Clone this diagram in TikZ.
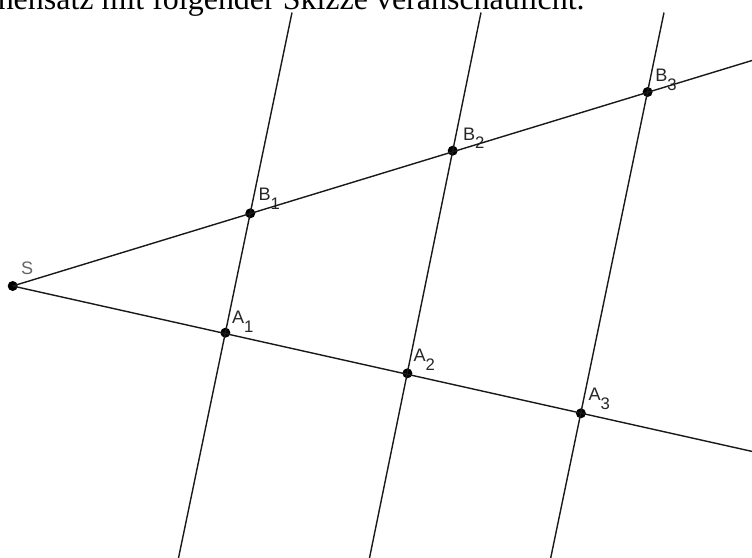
\documentclass[tikz,border=0pt]{standalone}
\usepackage{fontspec}
\setmainfont{Liberation Serif}
\newfontfamily\labfont{Liberation Sans}

\newcommand{\ptname}[2]{#1\raisebox{-5pt}{\fontsize{9.5}{10}\selectfont #2}}

\begin{document}
\begin{tikzpicture}[x=0.02cm, y=-0.02cm,
    pt/.style={circle, fill=black, inner sep=0pt, minimum size=0.2cm},
    lab/.style={anchor=base west, inner sep=0pt, text=black!85, font=\labfont\fontsize{10.3}{11}\selectfont},
    ln/.style={line width=0.8pt, black!90}
  ]
    \useasboundingbox (0,0) rectangle (752,558);
    \clip (0,0) rectangle (752,558);

    % --- caption line, cut off at the top ---
    \node[anchor=base east, inner sep=0pt, font=\fontsize{18.2}{20}\selectfont] (cap) at (585,9.5) {hensatz mit folgender Skizze veranschaulicht.};

    % --- points ---
    \node[pt] (S) at (12.7,286) {};
    \node[pt] (A1) at (225.4,332.7) {};
    \node[pt] (A2) at (407.4,373.3) {};
    \node[pt] (A3) at (580.9,413.3) {};
    \node[pt] (B1) at (250.3,213.3) {};
    \node[pt] (B2) at (452.7,150.7) {};
    \node[pt] (B3) at (647.6,92) {};

    \node[lab, text=black!60] (lS) at (20.7,274) {S};
    \node[lab] (lA1) at (231.7,323.3) {\ptname{A}{1}};
    \node[lab] (lA2) at (413.3,361.7) {\ptname{A}{2}};
    \node[lab] (lA3) at (588.3,400.7) {\ptname{A}{3}};
    \node[lab] (lB1) at (258.3,200.7) {\ptname{B}{1}};
    \node[lab] (lB2) at (462.7,140) {\ptname{B}{2}};
    \node[lab] (lB3) at (655,81.7) {\ptname{B}{3}};

    % --- free ends at the border ---
    \coordinate (eB) at (752,60.5);
    \coordinate (eA) at (752,451.4);
    \coordinate (t1) at (292,12.5);
    \coordinate (u1) at (178.5,558);
    \coordinate (t2) at (481,12.5);
    \coordinate (u2) at (369.5,558);
    \coordinate (t3) at (664,12.5);
    \coordinate (u3) at (550.7,558);

    % --- two rays from S ---
    \draw[ln] (S.center) -- (eB);
    \draw[ln] (S.center) -- (eA);

    % --- parallels ---
    \draw[ln] (t1) -- (u1);
    \draw[ln] (t2) -- (u2);
    \draw[ln] (t3) -- (u3);
\end{tikzpicture}
\end{document}
